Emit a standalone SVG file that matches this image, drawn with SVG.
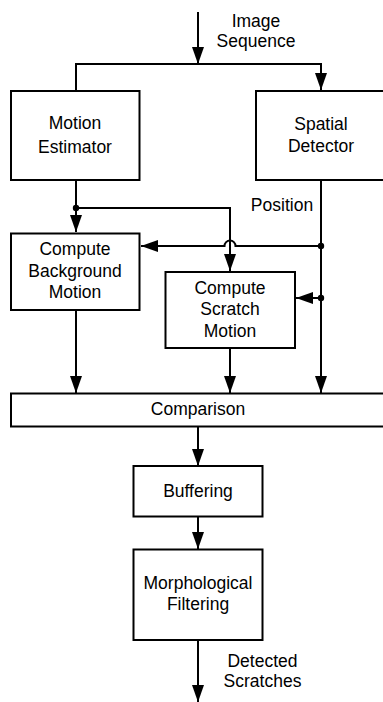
<svg xmlns="http://www.w3.org/2000/svg" width="383" height="702" viewBox="0 0 383 702">
<style>
.box{fill:#fff;stroke:#000;stroke-width:2}
.ln{fill:none;stroke:#000;stroke-width:2}
.t{font-family:"Liberation Sans",Arial,sans-serif;font-size:17.5px;fill:#000;text-anchor:middle}
</style>
<defs>
<marker id="ah" markerUnits="userSpaceOnUse" markerWidth="17" markerHeight="12" viewBox="0 0 17 12" refX="17" refY="6" orient="auto">
<path d="M0,0 L17,6 L0,12 z" fill="#000"/>
</marker>
</defs>
<g id="connectors">
<line class="ln" x1="198" y1="12" x2="198" y2="64" marker-end="url(#ah)"/>
<polyline class="ln" points="76,90 76,64 321,64 321,90" marker-start="url(#ah)" marker-end="url(#ah)"/>
<line class="ln" x1="76" y1="180" x2="76" y2="232" marker-end="url(#ah)"/>
<polyline class="ln" points="76,208 230,208 230,271" marker-end="url(#ah)"/>
<circle cx="76" cy="208" r="3.2" fill="#000"/>
<path class="ln" d="M321,246 H235.5 A5.5 5.5 0 0 0 224.5,246 H141" marker-end="url(#ah)"/>
<circle cx="321" cy="246" r="3.2" fill="#000"/>
<line class="ln" x1="321" y1="298" x2="296" y2="298" marker-end="url(#ah)"/>
<circle cx="321" cy="298" r="3.2" fill="#000"/>
<line class="ln" x1="321" y1="180" x2="321" y2="393" marker-end="url(#ah)"/>
<line class="ln" x1="76" y1="310" x2="76" y2="393" marker-end="url(#ah)"/>
<line class="ln" x1="230" y1="348" x2="230" y2="393" marker-end="url(#ah)"/>
<line class="ln" x1="198" y1="427" x2="198" y2="466" marker-end="url(#ah)"/>
<line class="ln" x1="198" y1="517" x2="198" y2="549" marker-end="url(#ah)"/>
<line class="ln" x1="198" y1="640" x2="198" y2="702" marker-end="url(#ah)"/>
<text class="t" x="256" y="27">Image</text>
<text class="t" x="256" y="47">Sequence</text>
<text class="t" x="282" y="211">Position</text>
<text class="t" x="262.5" y="667">Detected</text>
<text class="t" x="262.5" y="687">Scratches</text>
</g>
<g id="motion-estimator">
<rect class="box" x="11" y="91" width="128.5" height="89"/>
<text class="t" x="75" y="129">Motion</text>
<text class="t" x="75" y="152.5">Estimator</text>
</g>
<g id="spatial-detector">
<rect class="box" x="256" y="91" width="130" height="89"/>
<text class="t" x="321" y="130">Spatial</text>
<text class="t" x="321" y="151.5">Detector</text>
</g>
<g id="compute-background">
<rect class="box" x="11" y="233.5" width="128.5" height="76.5"/>
<text class="t" x="75" y="255">Compute</text>
<text class="t" x="75" y="276.5">Background</text>
<text class="t" x="75" y="297.5">Motion</text>
</g>
<g id="compute-scratch">
<rect class="box" x="165.5" y="272" width="129.5" height="76"/>
<text class="t" x="230" y="294">Compute</text>
<text class="t" x="230" y="315">Scratch</text>
<text class="t" x="230" y="336.5">Motion</text>
</g>
<g id="comparison">
<rect class="box" x="11" y="393.5" width="375" height="33"/>
<text class="t" x="198" y="415">Comparison</text>
</g>
<g id="buffering">
<rect class="box" x="133.5" y="466" width="129" height="50.5"/>
<text class="t" x="198" y="496.5">Buffering</text>
</g>
<g id="morphological-filtering">
<rect class="box" x="133.5" y="549.5" width="129" height="90.5"/>
<text class="t" x="198" y="589">Morphological</text>
<text class="t" x="198" y="610">Filtering</text>
</g>
</svg>
